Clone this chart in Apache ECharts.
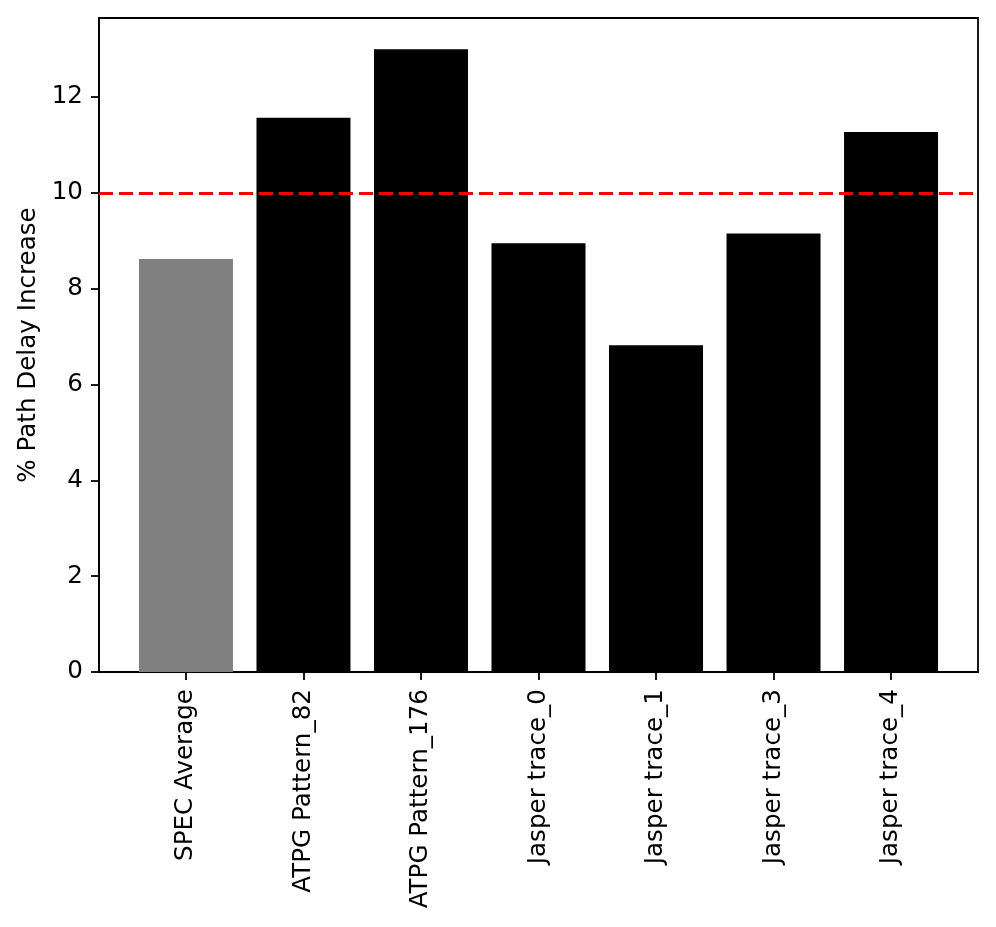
<!DOCTYPE html>
<html>
<head>
<meta charset="utf-8">
<script src="https://cdn.jsdelivr.net/npm/echarts@6/dist/echarts.min.js"></script>
<style>
html,body{margin:0;padding:0;background:#fff;}
#chart{width:996px;height:927px;}
</style>
</head>
<body>
<div id="chart"></div>
<script>
const categories = ["SPEC Average", "ATPG Pattern_82", "ATPG Pattern_176", "Jasper trace_0", "Jasper trace_1", "Jasper trace_3", "Jasper trace_4"];
const values = [8.62, 11.57, 13.00, 8.95, 6.82, 9.15, 11.27];
const barColors = ["#808080", "#000000", "#000000", "#000000", "#000000", "#000000", "#000000"];
const yTicks = [0, 2, 4, 6, 8, 10, 12];
const threshold = 10;
const yTitle = "% Path Delay Increase";

const xTicks = categories.map((c, i) => i);
const chart = echarts.init(document.getElementById('chart'), null, {renderer: 'canvas'});
const font = "DejaVu Sans";
chart.setOption({
  animation: false,
  backgroundColor: '#fff',
  grid: {left: 99, right: 18, top: 18, bottom: 255, show: true, borderColor: '#000', borderWidth: 1.8, backgroundColor: 'transparent'},
  xAxis: {
    type: 'value',
    min: -0.74, max: categories.length - 1 + 0.74,
    splitLine: {show: false},
    axisLine: {show: true, onZero: false, lineStyle: {color: '#000', width: 1.8}},
    axisTick: {show: true, length: 8, lineStyle: {color: '#000', width: 1.8}, customValues: xTicks},
    axisLabel: {
      customValues: xTicks, rotate: 90, margin: 17,
      color: '#000', fontFamily: font, fontSize: 24.6,
      formatter: v => categories[Math.round(v)]
    }
  },
  yAxis: {
    type: 'value', min: 0, max: 13.65,
    splitLine: {show: false},
    axisLine: {show: true, onZero: false, lineStyle: {color: '#000', width: 1.8}},
    axisTick: {show: true, length: 8, lineStyle: {color: '#000', width: 1.8}, customValues: yTicks},
    axisLabel: {customValues: yTicks, margin: 16, color: '#000', fontFamily: font, fontSize: 24.6},
    name: yTitle, nameLocation: 'middle', nameGap: 55,
    nameTextStyle: {color: '#000', fontFamily: font, fontSize: 24.6}
  },
  series: [{
    type: 'bar',
    barWidth: 94,
    data: values.map((v, i) => ({value: [i, v], itemStyle: {color: barColors[i]}})),
    markLine: {
      silent: true, symbol: 'none',
      label: {show: false},
      lineStyle: {color: '#ff0000', type: [14, 6], width: 3},
      data: [{yAxis: threshold}]
    }
  }]
});
</script>
</body>
</html>
